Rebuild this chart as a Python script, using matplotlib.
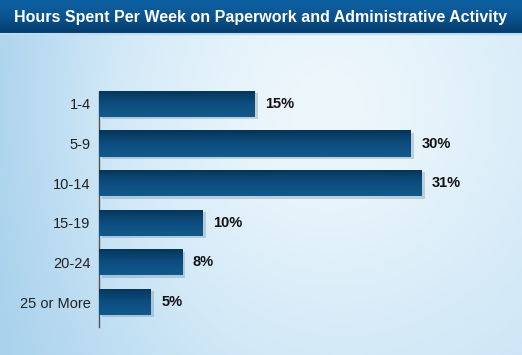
import numpy as np
import matplotlib.pyplot as plt
from matplotlib.colors import LinearSegmentedColormap

categories = ["1-4", "5-9", "10-14", "15-19", "20-24", "25 or More"]
values = [15, 30, 31, 10, 8, 5]
title = "Hours Spent Per Week on Paperwork and Administrative Activity"

W, H = 522, 355
fig = plt.figure(figsize=(W / 100, H / 100), dpi=100)

# background gradient
bg = fig.add_axes([0, 0, 1, 1])
bg.set_axis_off()
yy, xx = np.mgrid[0:1:200j, 0:1:300j]
t = np.clip(0.6 * np.exp(-((xx - 0.6) ** 2 / 0.2 + (yy - 0.7) ** 2 / 0.4)) + 0.35 * (1 - (1 - xx) ** 3), 0, 1)
bg_cmap = LinearSegmentedColormap.from_list("bg", ["#a6d0ec", "#d2e9f7", "#eef7fc"])
bg.imshow(t, cmap=bg_cmap, aspect="auto", extent=[0, 1, 0, 1], origin="lower", vmin=0, vmax=0.95)
bg.set_xlim(0, 1)
bg.set_ylim(0, 1)

# title bar
bar_h = 33 / H
tb = np.linspace(0, 1, 50).reshape(-1, 1)
tb_cmap = LinearSegmentedColormap.from_list("tb", ["#063c6c", "#0a5490", "#0f62a2"])
bg.imshow(tb, cmap=tb_cmap, aspect="auto", extent=[0, 1, 1 - bar_h, 1], origin="lower")
bg.axhline(1 - bar_h - 0.002, color="#b8def5", lw=1.5)
bg.text(0.5, 1 - bar_h / 2 - 0.003, title, color="white", ha="center", va="center",
        fontsize=11.5, fontweight="bold", family="Liberation Sans")

# chart axes
left, right = 99 / W, 515 / W
top, bottom = (H - 92) / H, (H - 327) / H
ax = fig.add_axes([left, bottom, right - left, top - bottom])
ax.patch.set_alpha(0)
y = np.arange(len(categories))
bars = ax.barh(y, values, height=0.66, color="#0c4a7c", zorder=3)
ax.barh(y + 0.06, values, left=0.3, height=0.66, color="#5d7d96", alpha=0.3, zorder=2)

grad = np.linspace(0, 1, 50).reshape(-1, 1)
bar_cmap = LinearSegmentedColormap.from_list("bar", ["#053558", "#0d4d7e", "#115a8c"])
for b in bars:
    x0, y0, w, h = b.get_x(), b.get_y(), b.get_width(), b.get_height()
    im = ax.imshow(grad, cmap=bar_cmap, aspect="auto", extent=[x0, x0 + w, y0 + h, y0],
                   origin="upper", zorder=4)
    im.set_clip_path(b)

for yi, v in zip(y, values):
    ax.text(v + 1.0, yi, f"{v}%", va="center", ha="left", fontsize=10.5,
            fontweight="bold", family="Liberation Sans", color="#111111")

ax.set_xlim(0, 40)
ax.set_ylim(5.63, -0.3)
ax.set_yticks(y)
ax.set_yticklabels(categories, family="Liberation Sans", fontsize=10.5, color="#222222")
ax.tick_params(axis="y", length=0, pad=6)
ax.set_xticks([])
for s in ["top", "right", "bottom"]:
    ax.spines[s].set_visible(False)
ax.spines["left"].set_color("#555555")
ax.spines["left"].set_linewidth(1)

fig.savefig("out.png", dpi=100)
